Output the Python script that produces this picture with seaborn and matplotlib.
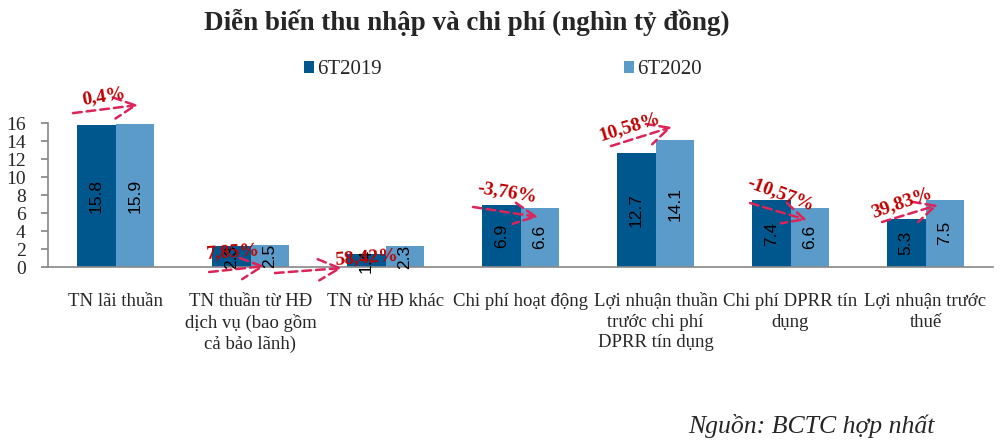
import matplotlib
matplotlib.use("Agg")
import matplotlib.pyplot as plt
import seaborn as sns
import pandas as pd
from matplotlib.patches import Patch

# ---- data ----
categories = [
    "TN lãi thuần",
    "TN thuần từ HĐ\ndịch vụ (bao gồm\ncả bảo lãnh)",
    "TN từ HĐ khác",
    "Chi phí hoạt động",
    "Lợi nhuận thuần\ntrước chi phí\nDPRR tín dụng",
    "Chi phí DPRR tín\ndụng",
    "Lợi nhuận trước\nthuế",
]
series_names = ["6T2019", "6T2020"]
values_2019 = [15.8, 2.3, 1.4, 6.9, 12.7, 7.4, 5.3]
values_2020 = [15.9, 2.5, 2.3, 6.6, 14.1, 6.6, 7.5]
growth_labels = ["0,4%", "7,85%", "58,42%", "-3,76%", "10,58%", "-10,57%", "39,83%"]
y_ticks = [0, 2, 4, 6, 8, 10, 12, 14, 16]

# ---- layout for growth annotations (text pos, rotation, arrow start, arrow end) ----
ann_layout = [
    ((-0.09, 19.0), 9, (-0.315, 17.1), (0.167, 18.0)),
    ((0.87, 1.67), 4, (0.693, -0.56), (1.107, 0.11)),
    ((1.856, 1.0), 4, (1.181, -0.67), (1.681, -0.11)),
    ((2.9, 8.22), -9, (2.648, 6.67), (3.13, 5.56)),
    ((3.811, 15.56), 17, (3.67, 13.44), (4.122, 15.56)),
    ((4.93, 8.11), -20, (4.70, 7.11), (5.122, 5.22)),
    ((5.826, 7.11), 19, (5.678, 5.0), (6.093, 6.89)),
]

dark = "#00578E"
light = "#5A9BCA"
serif = ["Liberation Serif", "DejaVu Serif"]

sns.set_theme(style="white")
plt.rcParams["font.family"] = serif

df = pd.DataFrame({
    "cat": categories * 2,
    "series": [series_names[0]] * len(categories) + [series_names[1]] * len(categories),
    "value": values_2019 + values_2020,
})

fig = plt.figure(figsize=(10.02, 4.45), dpi=100)
ax = fig.add_axes([48 / 1002, 178 / 445, 945 / 1002, 144 / 445])

sns.barplot(data=df, x="cat", y="value", hue="series", order=categories,
            hue_order=series_names, palette=[dark, light], saturation=1,
            width=0.57, ax=ax, legend=False, errorbar=None, linewidth=0,
            edgecolor="none")

for cont in ax.containers:
    ax.bar_label(cont, labels=[f"{v:.1f}" for v in cont.datavalues],
                 label_type="center", rotation=90, fontsize=12.5,
                 family=["Liberation Sans", "DejaVu Sans"], color="black")

ax.set_xlim(-0.5, len(categories) - 0.5)
ax.set_ylim(0, 16)
ax.set_yticks(y_ticks)
ax.set_yticklabels([str(t) for t in y_ticks], fontsize=14)
ax.set_xlabel("")
ax.set_ylabel("")
ax.set_xticks(range(len(categories)))
ax.set_xticklabels(categories, fontsize=13.5, linespacing=1.27, va="top")
ax.set_xticks([i - 0.5 for i in range(len(categories) + 1)], minor=True)
ax.tick_params(axis="x", which="major", length=0, pad=19)
ax.tick_params(axis="x", which="minor", length=5, color="#888888", direction="out")
ax.tick_params(axis="y", length=5, color="#888888", direction="out", left=True, pad=11)

for s in ["top", "right"]:
    ax.spines[s].set_visible(False)
for s in ["left", "bottom"]:
    ax.spines[s].set_color("#888888")
    ax.spines[s].set_linewidth(1.2)
ax.grid(False)

# growth annotations
for lab, (tpos, rot, a0, a1) in zip(growth_labels, ann_layout):
    ax.annotate("", xy=a1, xytext=a0, annotation_clip=False,
                arrowprops=dict(arrowstyle="->,head_length=0.9,head_width=0.45",
                                mutation_scale=17,
                                color="#DC2458", lw=1.8, linestyle=(0, (3.5, 2)),
                                shrinkA=0, shrinkB=0))
    ax.text(tpos[0], tpos[1], lab, ha="center", va="center", rotation=rot,
            rotation_mode="anchor", fontsize=14, fontweight="bold",
            color="#C00000", clip_on=False)

# title
fig.text(467 / 1002, 1 - 22 / 445, "Diễn biến thu nhập và chi phí (nghìn tỷ đồng)",
         ha="center", va="center", fontsize=19.5, fontweight="bold")

# legend
handles = [Patch(facecolor=dark, edgecolor="none"), Patch(facecolor=light, edgecolor="none")]
fig.legend(handles, series_names, loc="center", bbox_to_anchor=(503 / 1002, 1 - 70 / 445),
           ncol=2, frameon=False, fontsize=15, handlelength=0.5, handleheight=0.5,
           handletextpad=0.15, columnspacing=11.6)

# source
fig.text(935 / 1002, 1 - 426 / 445, "Nguồn: BCTC hợp nhất", ha="right", va="center",
         fontsize=18.5, fontstyle="italic")

fig.savefig("out.png", dpi=100)
